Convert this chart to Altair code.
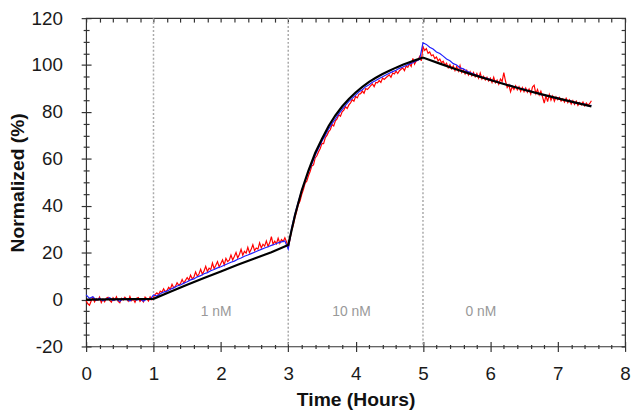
import altair as alt
import pandas as pd

# ---------------- data ----------------
red_time = [round(0.025 * i, 3) for i in range(301)]   # 0 .. 7.5 h
blue_time = [round(0.05 * i, 2) for i in range(151)]   # 0 .. 7.5 h

red_values = [
    # 0 - 1 h
    -0.5, -1.8, -2.4, -0.6, 0.9, -1.0, 0.4, -0.3, 1.1, -1.3, 0.2, -0.9, 0.6, 1.0, -0.4, -1.1, 0.8, -0.2, 1.2, -0.8,
    -1.4, 0.5, -0.2, 1.0, 0.3, -0.7, 1.3, -0.5, 0.2, -1.2, 0.6, 0.9, -0.8, 0.1, -1.0, 1.1, 0.4, -0.6, 1.2, 0.0,
    # 1 - 2 h
    1.0, 2.2, 2.9, 2.1, 3.6, 3.1, 4.6, 3.3, 3.9, 5.2, 4.4, 6.5, 5.0, 5.6, 7.2, 6.1, 6.8, 8.6, 7.0, 8.2,
    9.4, 8.3, 10.4, 8.9, 9.6, 11.8, 10.0, 10.9, 12.9, 10.8, 12.2, 14.2, 12.0, 13.4, 12.8, 15.6, 13.2, 14.6, 16.2, 13.9,
    # 2 - 3 h
    15.4, 16.9, 14.8, 17.6, 16.2, 16.8, 19.0, 16.9, 18.4, 20.1, 17.8, 19.2, 21.4, 18.9, 20.6, 19.8, 22.3, 20.0, 21.4, 23.4,
    20.9, 22.0, 21.5, 24.2, 22.0, 23.6, 22.8, 25.0, 22.7, 24.2, 26.8, 23.6, 24.9, 23.8, 26.2, 24.0, 25.6, 24.8, 26.4, 24.6,
    # 3 - 4 h
    22.0, 25.5, 29.4, 31.8, 35.0, 37.6, 40.6, 42.0, 44.8, 46.9, 49.6, 50.5, 52.8, 54.6, 57.0, 57.4, 60.4, 61.3, 63.0, 64.4,
    66.6, 66.5, 69.0, 70.0, 71.6, 72.4, 74.6, 74.0, 76.2, 77.0, 78.8, 78.2, 80.1, 80.8, 82.2, 81.5, 83.0, 83.9, 85.2, 84.6,
    # 4 - 5 h
    86.6, 86.0, 87.6, 87.8, 88.9, 88.0, 90.0, 89.6, 90.4, 91.2, 91.9, 90.8, 92.6, 92.4, 93.4, 92.6, 94.5, 93.9, 94.6, 95.2,
    95.8, 94.8, 96.6, 96.2, 97.4, 96.4, 97.6, 98.2, 98.8, 97.6, 99.6, 99.0, 100.6, 99.4, 102.8, 100.4, 101.8, 102.0, 103.6, 101.8,
    # 5 - 6 h
    107.8, 106.2, 107.0, 105.0, 105.6, 104.0, 104.4, 102.8, 103.4, 101.8, 102.6, 101.0, 101.6, 100.0, 100.8, 98.8, 100.2, 98.4, 99.6, 97.6,
    99.4, 97.4, 99.8, 96.8, 98.0, 96.2, 97.8, 95.8, 97.2, 95.4, 96.8, 95.0, 96.4, 94.4, 96.6, 94.0, 95.2, 93.6, 94.8, 93.2,
    # 6 - 7 h
    94.4, 92.6, 94.8, 92.4, 93.6, 91.8, 94.0, 93.0, 96.8, 93.2, 90.4, 91.6, 88.6, 90.8, 89.6, 91.2, 89.4, 90.8, 88.8, 90.4,
    88.6, 90.2, 88.4, 89.8, 87.6, 90.6, 91.4, 87.8, 89.6, 87.2, 88.8, 86.4, 83.8, 87.0, 84.4, 87.4, 85.0, 86.8, 84.6, 86.4,
    # 7 - 7.5 h
    85.2, 86.2, 84.6, 85.6, 84.2, 85.8, 84.0, 85.2, 83.4, 84.8, 83.2, 84.6, 82.8, 84.0, 83.0, 84.2, 82.6, 83.8, 82.8, 83.6,
    84.8,
]

blue_values = [
    2.0, 0.5, 1.2, -0.3, 0.6, -0.5, 0.2, 0.8, -0.4, 0.3, -0.8, 0.5, 0.1, -0.6, 0.4, -0.2, 0.3, -0.7, 0.2, 0.0,
    2.0, 1.5, 2.5, 3.2, 3.6, 4.4, 5.0, 5.8, 6.2, 7.0, 7.6, 8.4, 8.8, 9.7, 10.2, 11.0, 11.5, 12.3, 12.8, 13.5,
    14.0, 14.6, 15.3, 15.9, 16.4, 17.2, 17.7, 18.5, 19.0, 19.6, 20.2, 20.8, 21.4, 22.0, 22.5, 23.1, 23.6, 24.2, 24.6, 25.0,
    21.5, 30.5, 36.5, 41.8, 46.5, 50.5, 54.5, 57.8, 61.5, 64.5, 67.5, 70.0, 72.8, 75.0, 77.0, 79.2, 81.0, 82.8, 84.5, 85.8,
    87.2, 88.6, 89.5, 90.8, 91.6, 92.7, 93.4, 94.3, 95.0, 95.8, 96.5, 97.2, 97.8, 98.6, 99.2, 99.8, 100.5, 101.0, 101.8, 102.4,
    109.5, 108.8, 107.6, 106.8, 105.6, 104.9, 103.8, 102.6, 101.8, 100.6, 100.0, 98.8, 98.4, 97.5, 96.8, 96.2, 95.6, 95.2, 94.6, 94.3,
    93.8, 93.2, 93.0, 92.3, 92.1, 91.4, 91.3, 90.6, 90.5, 89.8, 89.7, 89.0, 88.9, 88.2, 88.2, 87.4, 87.4, 86.8, 86.7, 86.0,
    86.0, 85.3, 85.3, 84.6, 84.6, 83.9, 84.0, 83.2, 83.3, 82.6, 82.8,
]

fit_time = [0.0, 1.0, 1.25, 1.5, 1.75, 2.0, 2.25, 2.5, 2.75,
            3.0, 3.1, 3.2, 3.3, 3.4, 3.5, 3.6, 3.7, 3.8, 3.9,
            4.0, 4.1, 4.2, 4.3, 4.4, 4.5, 4.6, 4.7, 4.8, 4.9,
            5.0, 5.25, 5.5, 5.75, 6.0, 6.25, 6.5, 6.75, 7.0, 7.25, 7.5]
fit_values = [0.0, 0.3, 3.3, 6.3, 9.2, 12.0, 14.8, 17.5, 20.2,
              23.3, 36.0, 46.5, 55.0, 62.5, 68.5, 74.0, 78.5, 82.3, 85.5,
              88.3, 90.7, 92.8, 94.6, 96.2, 97.6, 98.9, 100.1, 101.2, 102.2,
              103.2, 100.6, 98.1, 95.8, 93.6, 91.5, 89.5, 87.6, 85.8, 84.1, 82.4]

injection_times = [1, 3, 5]
conc_labels = ["1 nM", "10 nM", "0 nM"]
conc_label_x = [1.93, 3.94, 5.86]
conc_label_y = [-5.4, -5.4, -5.4]

x_major = [0, 1, 2, 3, 4, 5, 6, 7, 8]
y_major = [-20, 0, 20, 40, 60, 80, 100, 120]

# ---------------- tables ----------------
red_df = pd.DataFrame({"t": red_time, "v": red_values})
blue_df = pd.DataFrame({"t": blue_time, "v": blue_values})
fit_df = pd.DataFrame({"t": fit_time, "v": fit_values})
rule_df = pd.DataFrame({"t": injection_times})
text_df = pd.DataFrame({"t": conc_label_x, "v": conc_label_y, "label": conc_labels})

x_minor = [round(i * 0.2, 1) for i in range(41) if i % 5 != 0]
x_all = [round(i * 0.2, 1) for i in range(41)]
y_minor = [v for v in range(-20, 121, 5) if v % 20 != 0]
y_all = list(range(-20, 121, 5))

W, H = 545, 332
FONT = "Liberation Sans"

xs = alt.Scale(domain=[0, 8], nice=False, zero=False)
ys = alt.Scale(domain=[-20, 120], nice=False, zero=False)

# red trace carries the labelled axes
red = alt.Chart(red_df).mark_line(color="#ff0000", strokeWidth=1.2).encode(
    x=alt.X("t:Q", scale=xs, axis=alt.Axis(
        orient="bottom", values=x_major, offset=-5, tickSize=10, labelPadding=13.6,
        title="Time (Hours)", titleX=W / 2, titleY=59, titleBaseline="middle", titleAlign="center")),
    y=alt.Y("v:Q", scale=ys, axis=alt.Axis(
        orient="left", values=y_major, offset=-5, tickSize=10, labelPadding=19,
        labelExpr="datum.value + ''",
        title="Normalized (%)", titleX=-74.5, titleY=H / 2, titleAngle=270,
        titleBaseline="middle", titleAlign="center")),
)

# blue trace carries the minor tick axes
blue = alt.Chart(blue_df).mark_line(color="#2020ff", strokeWidth=1.2).encode(
    x=alt.X("t:Q", scale=xs, axis=alt.Axis(
        orient="bottom", values=x_minor, offset=-2, tickSize=4, labels=False, title=None)),
    y=alt.Y("v:Q", scale=ys, axis=alt.Axis(
        orient="left", values=y_minor, offset=-3, tickSize=6, labels=False, title=None)),
)

# fit curve carries the mirrored top/right ticks
fit = alt.Chart(fit_df).mark_line(color="black", strokeWidth=2.2).encode(
    x=alt.X("t:Q", scale=xs, axis=alt.Axis(
        orient="top", values=x_all, offset=-4, tickSize=4, labels=False, title=None)),
    y=alt.Y("v:Q", scale=ys, axis=alt.Axis(
        orient="right", values=y_all, offset=-4, tickSize=4, labels=False, title=None)),
)

rules = alt.Chart(rule_df).mark_rule(color="#aaaaaa", strokeDash=[2, 2], strokeWidth=1.5).encode(
    x=alt.X("t:Q", scale=xs, axis=None)
)

texts = alt.Chart(text_df).mark_text(font=FONT, fontSize=14, color="#999999", baseline="middle").encode(
    x=alt.X("t:Q", scale=xs, axis=None),
    y=alt.Y("v:Q", scale=ys, axis=None),
    text="label:N",
)

chart = (
    alt.layer(rules, texts, red, blue, fit)
    .resolve_scale(x="shared", y="shared")
    .resolve_axis(x="independent", y="independent")
    .properties(
        width=W, height=H,
        autosize=alt.AutoSizeParams(type="none"),
        padding={"left": 79, "top": 8, "right": 8, "bottom": 64},
    )
    .configure_view(stroke="#333333", strokeWidth=1.2)
    .configure_axis(
        grid=False, domain=False, labelFlush=False, labelOverlap=False,
        labelFont=FONT, labelFontSize=19, labelColor="#1a1a1a",
        titleFont=FONT, titleFontSize=19.5, titleFontWeight="bold", titleColor="#111111",
        tickColor="#333333", tickWidth=1.2,
    )
)

chart.save("out.html", embed_options={"renderer": "svg", "actions": False})
